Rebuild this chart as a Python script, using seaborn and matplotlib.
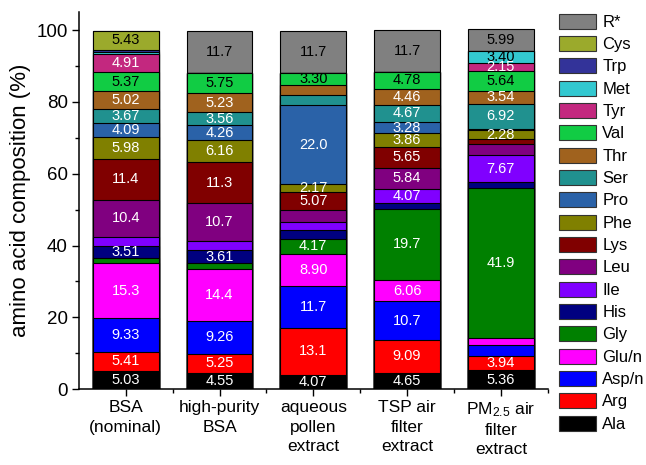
#!/usr/bin/env python3
"""Stacked amino acid composition of protein standards and aerosol extracts."""

import matplotlib.pyplot as plt
import numpy as np
import seaborn as sns
from matplotlib.patches import Patch
from matplotlib.ticker import MultipleLocator

SAMPLES = [
    "BSA\n(nominal)",
    "high-purity\nBSA",
    "aqueous\npollen\nextract",
    "TSP air\nfilter\nextract",
    "PM$_{2.5}$ air\nfilter\nextract",
]

# stacking order, bottom to top
AMINO_ACIDS = [
    "Ala", "Arg", "Asp/n", "Glu/n", "Gly", "His", "Ile", "Leu", "Lys", "Phe",
    "Pro", "Ser", "Thr", "Val", "Tyr", "Met", "Trp", "Cys", "R*",
]

COLORS = [
    "#000000", "#ff0000", "#0000ff", "#ff00ff", "#008000", "#000080", "#8000ff",
    "#800080", "#800000", "#808000", "#2a62a8", "#20918f", "#a0621e", "#11cc44",
    "#c3287f", "#33c8d0", "#333399", "#9baa2c", "#808080",
]

# segments whose numbers are printed in dark text
DARK_TEXT = {"Val", "Met", "Cys", "R*"}

# mol % per amino acid (same order as AMINO_ACIDS)
BSA_NOMINAL = [5.03, 5.41, 9.33, 15.3, 1.4, 3.51, 2.4, 10.4, 11.4, 5.98,
               4.09, 3.67, 5.02, 5.37, 4.91, 0.6, 0.6, 5.43, 0.0]
BSA_PURE = [4.55, 5.25, 9.26, 14.4, 1.6, 3.61, 2.5, 10.7, 11.3, 6.16,
            4.26, 3.56, 5.23, 5.75, 0.0, 0.0, 0.0, 0.0, 11.7]
POLLEN = [4.07, 13.1, 11.7, 8.90, 4.17, 2.3, 2.4, 3.2, 5.07, 2.17,
          22.0, 2.8, 2.8, 3.30, 0.0, 0.0, 0.0, 0.0, 11.7]
TSP = [4.65, 9.09, 10.7, 6.06, 19.7, 1.6, 4.07, 5.84, 5.65, 3.86,
       3.28, 4.67, 4.46, 4.78, 0.0, 0.0, 0.0, 0.0, 11.7]
PM25 = [5.36, 3.94, 2.9, 2.0, 41.9, 1.5, 7.67, 3.0, 1.5, 2.28,
        0.5, 6.92, 3.54, 5.64, 2.15, 3.40, 0.0, 0.0, 5.99]

# 1 = value printed inside the segment
LABEL_BSA_NOMINAL = [1, 1, 1, 1, 0, 1, 0, 1, 1, 1, 1, 1, 1, 1, 1, 0, 0, 1, 0]
LABEL_BSA_PURE = [1, 1, 1, 1, 0, 1, 0, 1, 1, 1, 1, 1, 1, 1, 0, 0, 0, 0, 1]
LABEL_POLLEN = [1, 1, 1, 1, 1, 0, 0, 0, 1, 1, 1, 0, 0, 1, 0, 0, 0, 0, 1]
LABEL_TSP = [1, 1, 1, 1, 1, 0, 1, 1, 1, 1, 1, 1, 1, 1, 0, 0, 0, 0, 1]
LABEL_PM25 = [1, 1, 0, 0, 1, 0, 1, 0, 0, 1, 0, 1, 1, 1, 1, 1, 0, 0, 1]


def fmt(value: float) -> str:
    return f"{value:.1f}" if value >= 10 else f"{value:.2f}"


def main() -> None:
    sns.set_style("ticks")
    plt.rcParams["font.family"] = ["Liberation Sans", "DejaVu Sans"]
    plt.rcParams["mathtext.default"] = "regular"
    for key in ("text.color", "axes.labelcolor", "xtick.color", "ytick.color"):
        plt.rcParams[key] = "black"

    values = np.array([BSA_NOMINAL, BSA_PURE, POLLEN, TSP, PM25])
    labelled = np.array([LABEL_BSA_NOMINAL, LABEL_BSA_PURE, LABEL_POLLEN,
                         LABEL_TSP, LABEL_PM25])
    tops = values.cumsum(axis=1)

    fig = plt.figure(figsize=(6.46, 4.65), dpi=100)
    ax = fig.add_axes([0.122, 0.163, 0.726, 0.811])

    # draw cumulative totals from the top layer down so each overlaps the next
    for i in range(len(AMINO_ACIDS) - 1, -1, -1):
        sns.barplot(x=SAMPLES, y=tops[:, i], color=COLORS[i], saturation=1,
                    width=0.7, edgecolor="black", linewidth=0.8,
                    errorbar=None, ax=ax)

    for j in range(len(SAMPLES)):
        for i, aa in enumerate(AMINO_ACIDS):
            if not labelled[j, i]:
                continue
            mid = tops[j, i] - values[j, i] / 2
            ax.text(j, mid, fmt(values[j, i]), ha="center", va="center",
                    fontsize=10.5,
                    color="black" if aa in DARK_TEXT else "white")

    ax.set_ylim(0, 105)
    ax.set_xlim(-0.5, 4.5)
    ax.set_ylabel("amino acid composition (%)", fontsize=16, labelpad=4)
    ax.set_xlabel("")
    ax.yaxis.set_major_locator(MultipleLocator(20))
    ax.yaxis.set_minor_locator(MultipleLocator(10))
    ax.set_xticks(range(len(SAMPLES)))
    ax.set_xticks(np.arange(0.5, len(SAMPLES), 1), minor=True)
    ax.set_xticklabels(SAMPLES, fontsize=12.5, linespacing=1.35)
    ax.tick_params(axis="y", labelsize=13.5)
    ax.tick_params(which="major", direction="out", length=5, width=1,
                   color="black", pad=3)
    ax.tick_params(which="minor", direction="out", length=3, width=1,
                   color="black")
    sns.despine(ax=ax)
    for side in ("left", "bottom"):
        ax.spines[side].set_linewidth(1.1)
        ax.spines[side].set_color("black")

    handles = [Patch(facecolor=c, edgecolor="#333333", linewidth=0.8)
               for c in COLORS[::-1]]
    fig.legend(handles, AMINO_ACIDS[::-1], loc="upper left",
               bbox_to_anchor=(0.855, 0.985), frameon=False, fontsize=12,
               handlelength=2.2, handleheight=1.0, handletextpad=0.4,
               labelspacing=0.37, borderaxespad=0)

    fig.savefig("out.png", dpi=100)
    plt.close(fig)


if __name__ == "__main__":
    main()
